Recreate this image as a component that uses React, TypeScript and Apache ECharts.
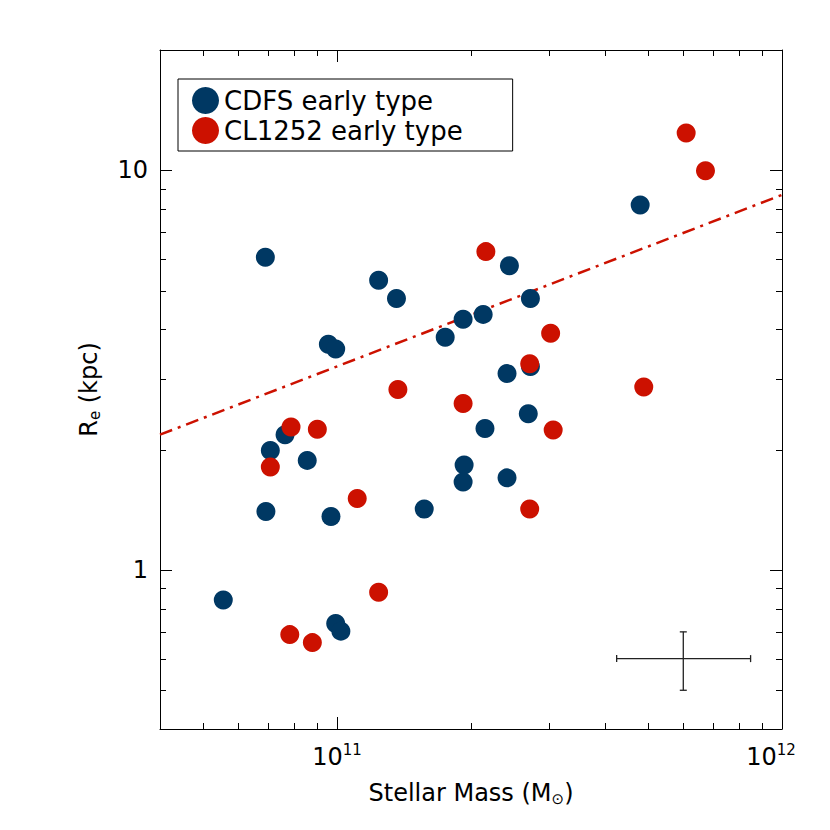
import React, { useEffect, useRef } from 'react';
import * as echarts from 'echarts';

const X_MIN = 4e10;
const X_MAX = 1e12;
const Y_MIN = 0.4;
const Y_MAX = 20;

const cdfsMass = [6.9e10, 1.24e11, 1.36e11, 9.56e10, 9.93e10, 1.75e11, 1.92e11, 2.13e11, 2.44e11, 2.72e11, 4.8e11, 2.41e11, 2.72e11, 2.69e11, 2.15e11, 7.64e10, 7.08e10, 8.57e10, 1.93e11, 1.92e11, 2.41e11, 6.92e10, 9.69e10, 1.57e11, 5.55e10, 9.93e10, 1.02e11];
const cdfsRe = [6.06, 5.31, 4.78, 3.67, 3.57, 3.82, 4.24, 4.36, 5.77, 4.78, 8.19, 3.1, 3.23, 2.46, 2.26, 2.18, 1.99, 1.88, 1.83, 1.66, 1.7, 1.4, 1.36, 1.42, 0.841, 0.735, 0.703];

const clMass = [6.09e11, 6.73e11, 2.16e11, 3.02e11, 2.71e11, 1.37e11, 4.89e11, 1.92e11, 7.88e10, 9.03e10, 3.06e11, 7.08e10, 1.11e11, 2.71e11, 1.24e11, 7.83e10, 8.8e10];
const clRe = [12.4, 9.98, 6.26, 3.91, 3.28, 2.83, 2.87, 2.61, 2.28, 2.25, 2.24, 1.81, 1.51, 1.42, 0.879, 0.689, 0.658];

const fitMass = [4e10, 1e12];
const fitRe = [2.18, 8.68];

const errCenterMass = 6e11;
const errCenterRe = 0.6;
const errMassRange = [4.25e11, 8.5e11];
const errReRange = [0.5, 0.7];

const xMajorTicks = [1e11];
const xMinorTicks = [5e10, 6e10, 7e10, 8e10, 9e10, 2e11, 3e11, 4e11, 5e11, 6e11, 7e11, 8e11, 9e11];
const yMajorTicks = [1, 10];
const yMinorTicks = [0.5, 0.6, 0.7, 0.8, 0.9, 2, 3, 4, 5, 6, 7, 8, 9];

const BLUE = '#003863';
const RED = '#cc1100';
const FONT = 'DejaVu Sans';
const MAJOR_LEN = 12;
const MINOR_LEN = 6;

const isPow10 = (v: number) => {
  const e = Math.log10(v);
  return Math.abs(e - Math.round(e)) < 1e-6 ? Math.round(e) : null;
};

export default function App() {
  const ref = useRef<HTMLDivElement>(null);
  useEffect(() => {
    if (!ref.current) return;
    const chart = echarts.init(ref.current, undefined, { renderer: 'svg' });
    const axisLine = { show: true, lineStyle: { color: '#000', width: 1 } };
    const option: any = {
      animation: false,
      backgroundColor: '#fff',
      grid: { left: 160, top: 50, right: 48, bottom: 101, outerBoundsMode: 'none' },
      legend: {
        left: 178,
        top: 79,
        orient: 'vertical',
        padding: [8, 50, 7, 14],
        itemGap: 3,
        itemWidth: 27,
        itemHeight: 27,
        icon: 'circle',
        borderColor: '#000',
        borderWidth: 1,
        borderRadius: 0,
        textStyle: { fontSize: 26, fontFamily: FONT, color: '#000' },
        data: ['CDFS early type', 'CL1252 early type'],
      },
      xAxis: [
        {
          type: 'log',
          min: X_MIN,
          max: X_MAX,
          position: 'bottom',
          axisLine,
          axisTick: { show: false },
          splitLine: { show: false },
          minorTick: { show: false },
          showMinLabel: false,
          showMaxLabel: true,
          axisLabel: {
            margin: 13,
            formatter: (v: number) => {
              const r = isPow10(v);
              if (r === null) return '';
              return r === 12 ? `{b|10}{s|${r}}{p|}` : `{b|10}{s|${r}}`;
            },
            rich: {
              b: { fontSize: 24, fontFamily: FONT, color: '#000' },
              s: { fontSize: 15, fontFamily: FONT, color: '#000', verticalAlign: 'bottom', padding: [0, 0, 14, 0] },
              p: { width: 22 },
            },
          },
          name: 'Stellar Mass (M{sub|⊙})',
          nameLocation: 'middle',
          nameGap: 50,
          nameTextStyle: {
            fontSize: 24,
            fontFamily: FONT,
            color: '#000',
            rich: {
              sub: { fontSize: 15, fontFamily: FONT, color: '#000', verticalAlign: 'top', padding: [12, 0, 0, 0] },
            },
          },
        },
        {
          type: 'log',
          min: X_MIN,
          max: X_MAX,
          position: 'top',
          axisLine,
          axisTick: { show: false },
          axisLabel: { show: false },
          splitLine: { show: false },
        },
      ],
      yAxis: [
        {
          type: 'log',
          min: Y_MIN,
          max: Y_MAX,
          position: 'left',
          axisLine,
          axisTick: { show: false },
          splitLine: { show: false },
          minorTick: { show: false },
          axisLabel: {
            margin: 12,
            fontSize: 24,
            fontFamily: FONT,
            color: '#000',
            formatter: (v: number) => {
              const r = isPow10(v);
              if (r === 0) return '1';
              if (r === 1) return '10';
              return '';
            },
          },
          name: 'R{sub|e} (kpc)',
          nameLocation: 'middle',
          nameRotate: 90,
          nameGap: 58,
          nameTextStyle: {
            fontSize: 24,
            fontFamily: FONT,
            color: '#000',
            rich: {
              sub: { fontSize: 15, fontFamily: FONT, color: '#000', verticalAlign: 'top', padding: [12, 0, 0, 0] },
            },
          },
        },
        {
          type: 'log',
          min: Y_MIN,
          max: Y_MAX,
          position: 'right',
          axisLine,
          axisTick: { show: false },
          axisLabel: { show: false },
          splitLine: { show: false },
        },
      ],
      series: [
        {
          type: 'line',
          name: 'fit',
          data: fitMass.map((m, i) => [m, fitRe[i]]),
          symbol: 'none',
          silent: true,
          lineStyle: { color: RED, width: 2.5, type: [13, 6, 3, 6] },
          z: 1,
        },
        {
          type: 'scatter',
          name: 'CDFS early type',
          data: cdfsMass.map((m, i) => [m, cdfsRe[i]]),
          symbol: 'circle',
          symbolSize: 19,
          itemStyle: { color: BLUE, opacity: 1 },
          z: 2,
        },
        {
          type: 'scatter',
          name: 'CL1252 early type',
          data: clMass.map((m, i) => [m, clRe[i]]),
          symbol: 'circle',
          symbolSize: 19,
          itemStyle: { color: RED, opacity: 1 },
          z: 3,
        },
        {
          type: 'custom',
          name: 'xticks',
          silent: true,
          z: 4,
          encode: { x: 0, y: 1 },
          data: [
            ...xMajorTicks.map((v) => [v, Y_MIN, MAJOR_LEN]),
            ...xMinorTicks.map((v) => [v, Y_MIN, MINOR_LEN]),
          ],
          renderItem: (params: any, api: any) => {
            const cs = params.coordSys;
            const px = Math.round(api.coord([api.value(0), Y_MIN])[0]) + 0.5;
            const len = api.value(2);
            const bottom = cs.y + cs.height;
            const top = cs.y;
            const st = { stroke: '#000', lineWidth: 1 };
            return {
              type: 'group',
              children: [
                { type: 'line', shape: { x1: px, y1: bottom, x2: px, y2: bottom - len }, style: st },
                { type: 'line', shape: { x1: px, y1: top, x2: px, y2: top + len }, style: st },
              ],
            };
          },
        },
        {
          type: 'custom',
          name: 'yticks',
          silent: true,
          z: 4,
          encode: { x: 0, y: 1 },
          data: [
            ...yMajorTicks.map((v) => [X_MIN, v, MAJOR_LEN]),
            ...yMinorTicks.map((v) => [X_MIN, v, MINOR_LEN]),
          ],
          renderItem: (params: any, api: any) => {
            const cs = params.coordSys;
            const py = Math.round(api.coord([X_MIN, api.value(1)])[1]) + 0.5;
            const len = api.value(2);
            const left = cs.x;
            const right = cs.x + cs.width;
            const st = { stroke: '#000', lineWidth: 1 };
            return {
              type: 'group',
              children: [
                { type: 'line', shape: { x1: left, y1: py, x2: left + len, y2: py }, style: st },
                { type: 'line', shape: { x1: right, y1: py, x2: right - len, y2: py }, style: st },
              ],
            };
          },
        },
        {
          type: 'custom',
          name: 'error',
          silent: true,
          z: 4,
          encode: { x: 0, y: 1 },
          data: [[errCenterMass, errCenterRe, errMassRange[0], errMassRange[1], errReRange[0], errReRange[1]]],
          renderItem: (params: any, api: any) => {
            const c = api.coord([api.value(0), api.value(1)]);
            const l = api.coord([api.value(2), api.value(1)]);
            const r = api.coord([api.value(3), api.value(1)]);
            const b = api.coord([api.value(0), api.value(4)]);
            const t = api.coord([api.value(0), api.value(5)]);
            const st = { stroke: '#222', lineWidth: 1.3 };
            const cap = 3.5;
            return {
              type: 'group',
              children: [
                { type: 'line', shape: { x1: l[0], y1: c[1], x2: r[0], y2: c[1] }, style: st },
                { type: 'line', shape: { x1: c[0], y1: t[1], x2: c[0], y2: b[1] }, style: st },
                { type: 'line', shape: { x1: l[0], y1: c[1] - cap, x2: l[0], y2: c[1] + cap }, style: st },
                { type: 'line', shape: { x1: r[0], y1: c[1] - cap, x2: r[0], y2: c[1] + cap }, style: st },
                { type: 'line', shape: { x1: c[0] - cap, y1: t[1], x2: c[0] + cap, y2: t[1] }, style: st },
                { type: 'line', shape: { x1: c[0] - cap, y1: b[1], x2: c[0] + cap, y2: b[1] }, style: st },
              ],
            };
          },
        },
      ],
    };
    chart.setOption(option);
    return () => chart.dispose();
  }, []);
  return <div ref={ref} style={{ position: 'fixed', left: 0, top: 0, width: 830, height: 830 }} />;
}
